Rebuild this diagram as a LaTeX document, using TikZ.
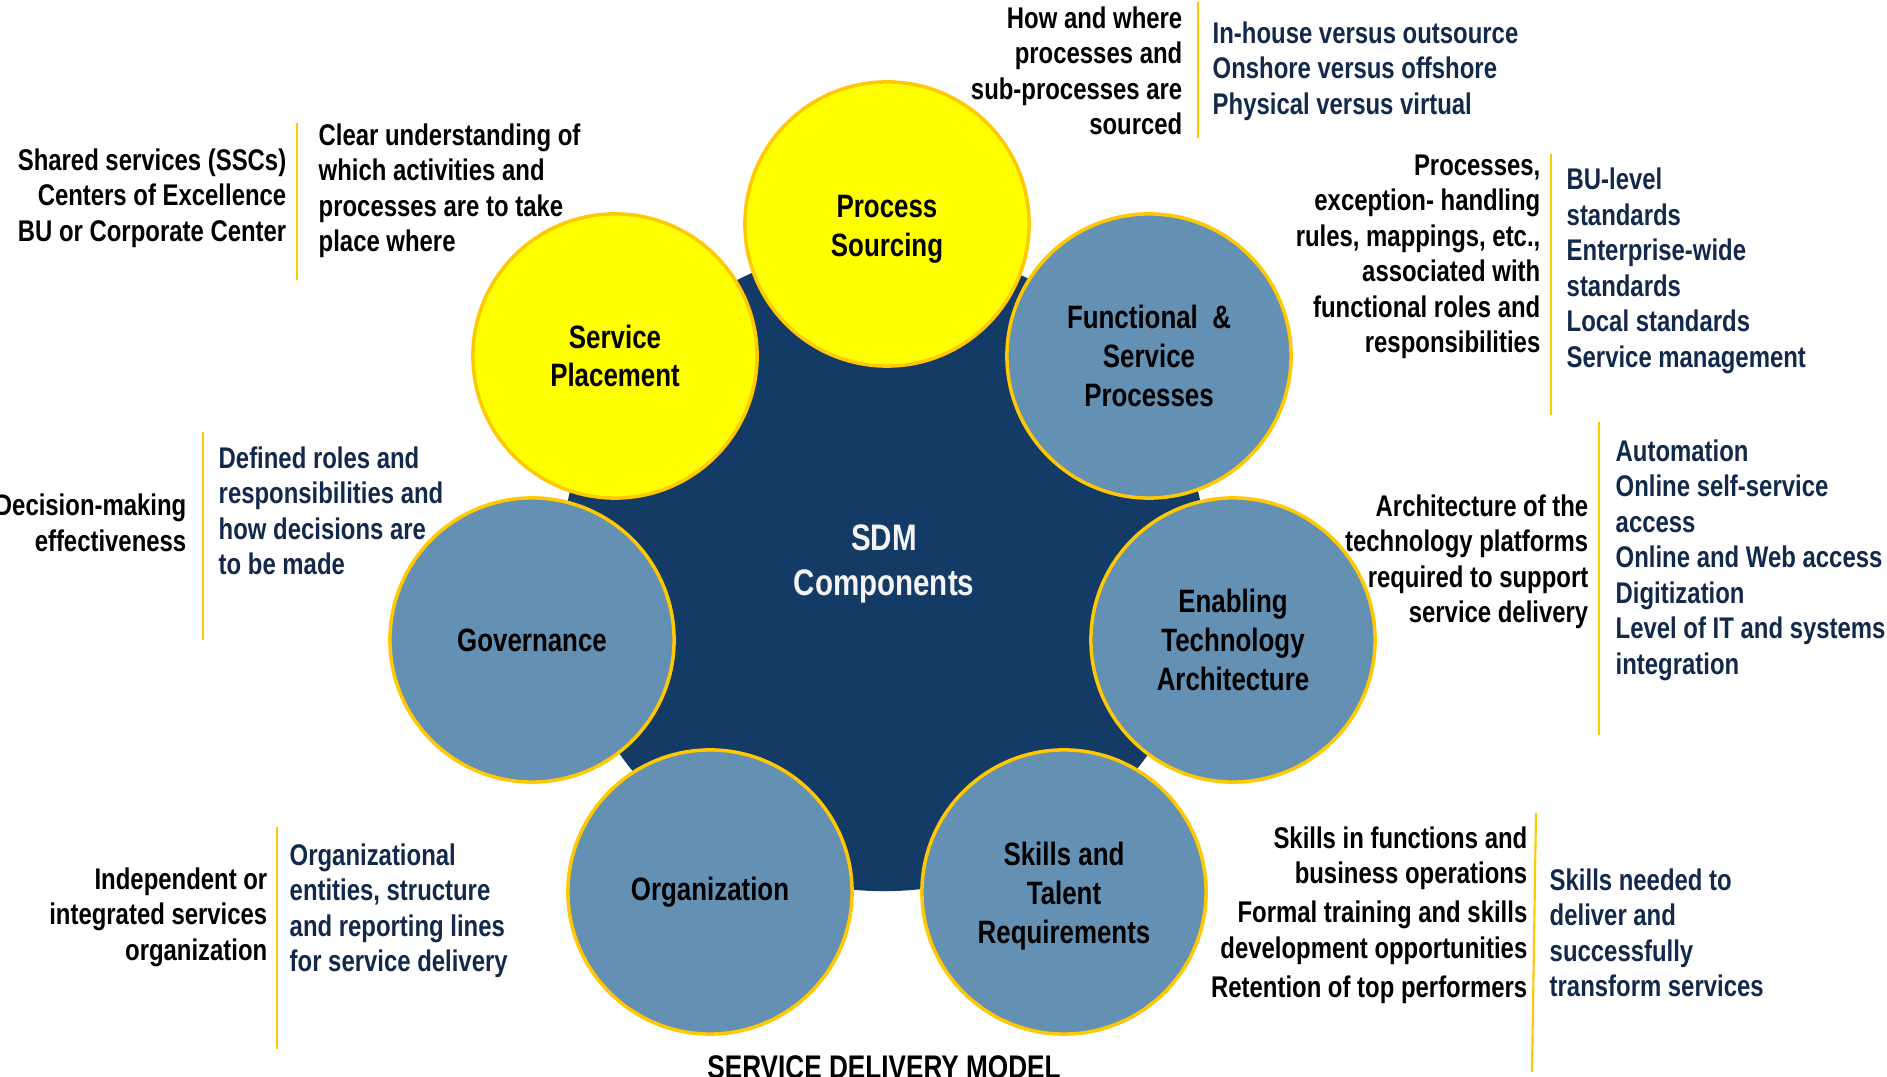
\documentclass[tikz,border=0pt]{standalone}
\usepackage{fontspec}
\usepackage{xcolor}
\usepackage{tikz}
\usetikzlibrary{positioning}
\setmainfont{Liberation Sans}[FakeStretch=0.80]
\definecolor{SdmNavy}{HTML}{143A66}
\definecolor{SdmSteel}{HTML}{6390B3}
\definecolor{SdmYellow}{HTML}{FFFF00}
\definecolor{SdmGold}{HTML}{FFC800}
\definecolor{SdmInk}{HTML}{13294B}
\definecolor{SdmWhite}{HTML}{F4F4F4}
\colorlet{SdmCore}{SdmNavy}
\colorlet{SdmPart}{SdmSteel}

\tikzset{
  comp/.style={circle, draw=SdmGold, line width=1pt, minimum size=2.84cm,
    inner sep=0pt, align=center, font=\fontsize{9.2}{11}\selectfont\bfseries},
  why/.style={anchor=east, align=right, inner sep=0pt,
    font=\fontsize{8.5}{10.1}\selectfont\bfseries, text=black},
  what/.style={anchor=west, align=left, inner sep=0pt,
    font=\fontsize{8.5}{10.1}\selectfont\bfseries, text=SdmInk},
  sepline/.style={draw=SdmGold, line width=0.6pt}
}

\begin{document}
\begin{tikzpicture}[x=0.01cm, y=-0.01cm]
  \useasboundingbox (0,0) rectangle (1887,1077);

  % core disc and the seven parts around it
  \node[circle, fill=SdmCore, minimum size=6.46cm, inner sep=0pt] (core) at (884,568) {};
  \node[text=SdmWhite, align=center, font=\fontsize{10.5}{13}\selectfont\bfseries]
    (coreText) at (884,564) {SDM\\Components};

  \node[comp, fill=SdmYellow] (sourcing) at (887,224) {};
  \node[align=center, font=\fontsize{9.2}{11}\selectfont\bfseries] (sourcingText) at (887,229) {Process\\Sourcing};
  \node[comp, fill=SdmYellow] (placement) at (615,356) {Service\\Placement};
  \node[comp, fill=SdmPart] (processes) at (1149,356) {Functional~~\&\\Service\\Processes};
  \node[comp, fill=SdmPart] (governance) at (532,640) {Governance};
  \node[comp, fill=SdmPart] (technology) at (1233,640) {Enabling\\Technology\\Architecture};
  \node[comp, fill=SdmPart] (organization) at (710,892) {Organization};
  \node[comp, fill=SdmPart] (skills) at (1064,892) {};
  \node[align=center, font=\fontsize{9.2}{11}\selectfont\bfseries] (skillsText) at (1064,896) {Skills and\\Talent\\Requirements};

  % process sourcing
  \draw[sepline] (1198,2) -- (1198,138);
  \node[why] (sourcingWhy) at (1183,71) {How and where\\processes and\\sub-processes are\\sourced};
  \node[what] (sourcingWhat) at (1212,71) {In-house versus outsource\\Onshore versus offshore\\Physical versus virtual};

  % service placement
  \draw[sepline] (297,123) -- (297,280);
  \node[why] (placementWhy) at (287,198) {Shared services (SSCs)\\Centers of Excellence\\BU or Corporate Center};
  \node[what, text=black] (placementWhat) at (318,191) {Clear understanding of\\which activities and\\processes are to take\\place where};

  % functional and service processes
  \draw[sepline] (1551,154) -- (1551,415);
  \node[why] (processesWhy) at (1541,257) {Processes,\\exception- handling\\rules, mappings, etc.,\\associated with\\functional roles and\\responsibilities};
  \node[what] (processesWhat) at (1566,271) {BU-level\\standards\\Enterprise-wide\\standards\\Local standards\\Service management};

  % enabling technology
  \draw[sepline] (1599,422) -- (1599,735);
  \node[why] (technologyWhy) at (1589,562) {Architecture of the\\technology platforms\\required to support\\service delivery};
  \node[what] (technologyWhat) at (1615,560) {Automation\\Online self-service\\access\\Online and Web access\\Digitization\\Level of IT and systems\\integration};

  % governance
  \draw[sepline] (203,432) -- (203,640);
  \node[why] (governanceWhy) at (187,523) {Decision-making\\effectiveness};
  \node[what] (governanceWhat) at (218,511) {Defined roles and\\responsibilities and\\how decisions are\\to be made};

  % organization
  \draw[sepline] (277,827) -- (277,1049);
  \node[why] (organizationWhy) at (268,917) {Independent or\\integrated services\\organization};
  \node[what] (organizationWhat) at (289,911) {Organizational\\entities, structure\\and reporting lines\\for service delivery};

  % skills and talent
  \draw[sepline] (1536,813) -- (1532,1072);
  \node[why] (skillsWhy) at (1528,915) {Skills in functions and\\business operations\\[1pt]Formal training and skills\\development opportunities\\[1pt]Retention of top performers};
  \node[what] (skillsWhat) at (1549,933) {Skills needed to\\deliver and\\successfully\\transform services};

  \node[anchor=north, inner sep=0pt, font=\fontsize{9.3}{11}\selectfont\bfseries]
    (modelTitle) at (884,1055) {SERVICE DELIVERY MODEL};
\end{tikzpicture}
\end{document}
